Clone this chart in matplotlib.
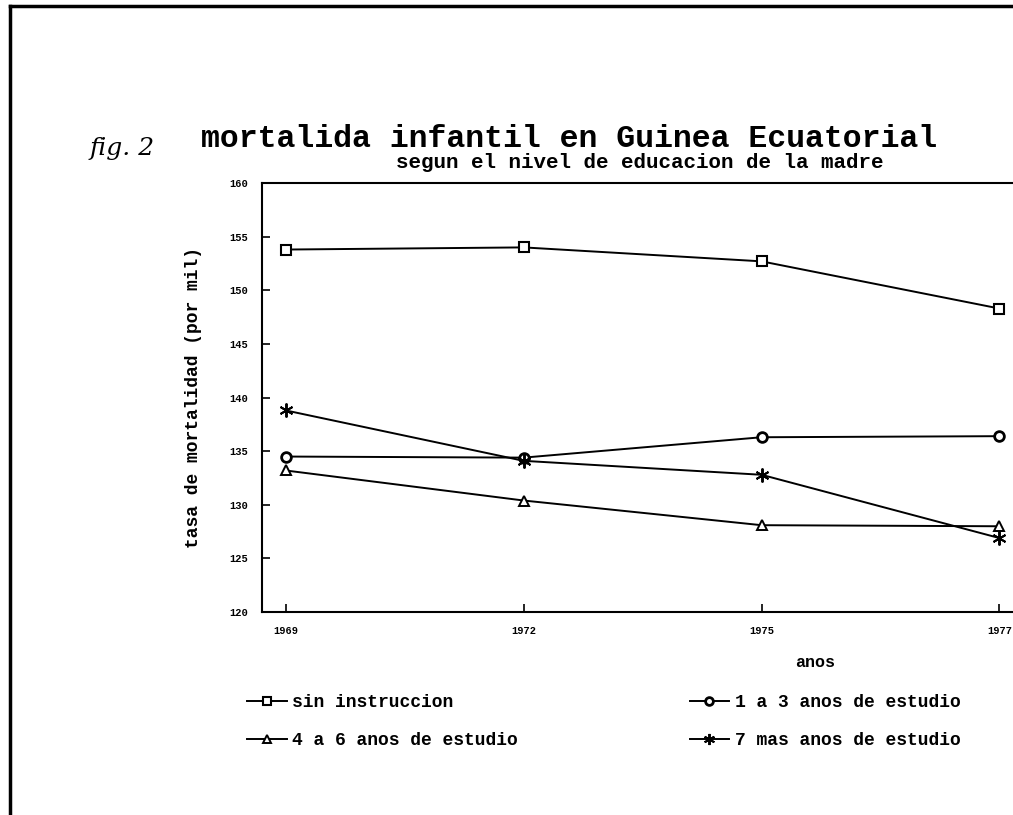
import matplotlib
matplotlib.use("Agg")
import matplotlib.pyplot as plt
from matplotlib.lines import Line2D

# datos
anos = ["1969", "1972", "1975", "1977"]
sin_instruccion = [153.8, 154.0, 152.7, 148.3]
uno_a_tres = [134.5, 134.4, 136.3, 136.4]
cuatro_a_seis = [133.2, 130.4, 128.1, 128.0]
siete_mas = [138.8, 134.1, 132.8, 126.9]
y_ticks = [120, 125, 130, 135, 140, 145, 150, 155, 160]

mono = "Liberation Mono"
plt.rcParams["font.family"] = [mono, "DejaVu Sans Mono"]
plt.rcParams["font.weight"] = "bold"

fig = plt.figure(figsize=(10.13, 8.15), dpi=100)
ax = fig.add_axes([0.2586, 0.249, 0.775, 0.5264])

x = range(len(anos))
lw = 1.4
l1, = ax.plot(x, sin_instruccion, color="black", lw=lw, marker="s", ms=7,
              mfc="white", mec="black", mew=1.5, label="sin instruccion")
l2, = ax.plot(x, uno_a_tres, color="black", lw=lw, marker="o", ms=7,
              mfc="white", mec="black", mew=2, label="1 a 3 anos de estudio")
l3, = ax.plot(x, cuatro_a_seis, color="black", lw=lw, marker="^", ms=7,
              mfc="white", mec="black", mew=1.4, label="4 a 6 anos de estudio")
l4, = ax.plot(x, siete_mas, color="black", lw=lw, marker=(6, 2, 0), ms=10,
              mec="black", mew=1.4, label="7 mas anos de estudio")

ax.set_xlim(-0.1, 3.2)
ax.set_ylim(120, 160)
ax.set_xticks(list(x))
ax.set_xticklabels(anos, fontsize=7.5, fontweight="bold")
ax.set_yticks(y_ticks)
ax.set_yticklabels([str(v) for v in y_ticks], fontsize=7.5, fontweight="bold")
ax.tick_params(direction="in", length=6, width=1.2, pad=10)
for s in ax.spines.values():
    s.set_linewidth(1.5)

ax.set_ylabel("tasa de mortalidad (por mil)", fontsize=13, fontweight="bold", labelpad=20)
fig.text(0.805, 0.187, "anos", fontsize=12, fontweight="bold", ha="center", va="center")

fig.text(0.198, 0.829, "mortalida infantil en Guinea Ecuatorial",
         fontsize=22.7, fontweight="bold", ha="left", va="center")
fig.text(0.632, 0.800, "segun el nivel de educacion de la madre",
         fontsize=15, fontweight="bold", ha="center", va="center")
fig.text(0.088, 0.818, "fig. 2", fontsize=18, fontweight="normal",
         family="DejaVu Serif", style="italic", ha="left", va="center")

fig.legend(handles=[l1, l3, l2, l4], ncol=2, loc="upper left",
           bbox_to_anchor=(0.228, 0.168), frameon=False, fontsize=13,
           handlelength=2.2, handletextpad=0.3, columnspacing=9.5,
           labelspacing=1.15, markerscale=0.8)

# marco de la hoja
fig.add_artist(Line2D([0.01, 0.01], [0.0, 0.993], color="black", lw=2.5))
fig.add_artist(Line2D([0.01, 1.0], [0.993, 0.993], color="black", lw=2.5))

fig.savefig("out.png", dpi=100)
